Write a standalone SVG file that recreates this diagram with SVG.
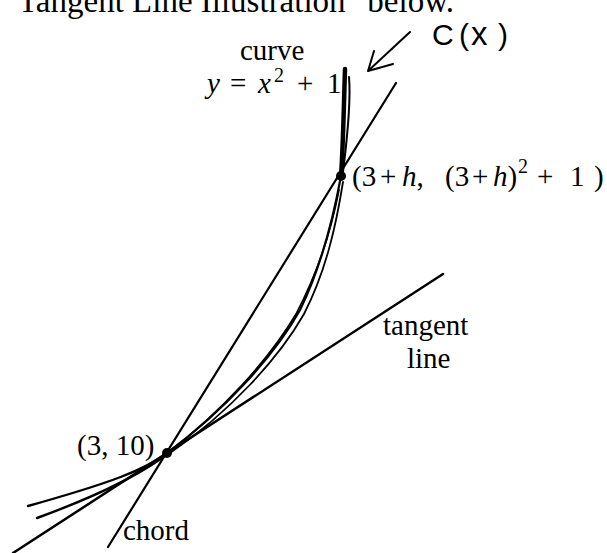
<svg xmlns="http://www.w3.org/2000/svg" width="607" height="553" viewBox="0 0 607 553">
<style>
.t{font-family:"Liberation Serif","Times New Roman",serif;font-size:29px;fill:#000}
.i{font-style:italic}
.s{font-size:20px}
.h{font-family:"Liberation Sans",Arial,sans-serif;font-size:30px;fill:#000}
.ln{fill:none;stroke:#000;stroke-linecap:round;stroke-linejoin:round}
</style>
<rect width="607" height="553" fill="#fff"/>
<g id="caption"><text class="t" x="18" y="12" style="font-size:33px">Tangent Line Illustration" below.</text></g>
<g id="connectors">
<path class="ln" d="M396,83 L108,547" stroke-width="2.2"/>
<path class="ln" d="M443,274 L13,553" stroke-width="2.5"/>
<path class="ln" d="M345,69 C344,100 343,150 341,176" stroke-width="4.5"/>
<path class="ln" d="M349,77 C351,100 347,140 343,172" stroke-width="2"/>
<path class="ln" d="M341,176 C333,220 322,265 300,310 C275,355 225,410 167,453" stroke-width="2.2"/>
<path class="ln" d="M343,182 C336,226 326,271 304,314 C279,358 229,413 170,453" stroke-width="1.8"/>
<path class="ln" d="M339,190 C331,232 318,272 296,314 C270,358 222,412 165,455" stroke-width="1.6"/>
<path class="ln" d="M167,453 C145,470 110,483 28,506" stroke-width="2.4"/>
<path class="ln" d="M170,452 C142,474 100,495 37,518" stroke-width="2.4"/>
<path class="ln" d="M410,32 L368,71 M374,51 L368,71 L393,64" stroke-width="2"/>
</g>
<g id="point-a"><circle cx="167" cy="453" r="5"/><text class="t" x="77" y="455">(3, 10)</text></g>
<g id="point-b"><circle cx="341" cy="176" r="5"/>
<text class="t" y="186"><tspan x="352">(3</tspan><tspan x="380">+</tspan><tspan x="402" class="i">h</tspan><tspan>,</tspan><tspan x="445">(3</tspan><tspan x="472">+</tspan><tspan x="493" class="i">h</tspan><tspan>)</tspan><tspan x="518" y="173" class="s">2</tspan><tspan x="537" y="186">+</tspan><tspan x="570">1</tspan><tspan x="594">)</tspan></text></g>
<g id="curve-label"><text class="t" x="240" y="60">curve</text>
<text class="t" y="93"><tspan x="207" class="i">y</tspan><tspan x="230">=</tspan><tspan x="258" class="i">x</tspan><tspan x="274" y="82" class="s">2</tspan><tspan x="297" y="93">+</tspan><tspan x="327">1</tspan></text></g>
<g id="c-label"><text class="h" y="45"><tspan x="432">C</tspan><tspan x="459">(</tspan><tspan x="471" style="font-size:33px">x</tspan><tspan x="498">)</tspan></text></g>
<g id="tangent-label"><text class="t" x="383" y="335">tangent</text><text class="t" x="407" y="368">line</text></g>
<g id="chord-label"><text class="t" x="123" y="540">chord</text></g>
</svg>
